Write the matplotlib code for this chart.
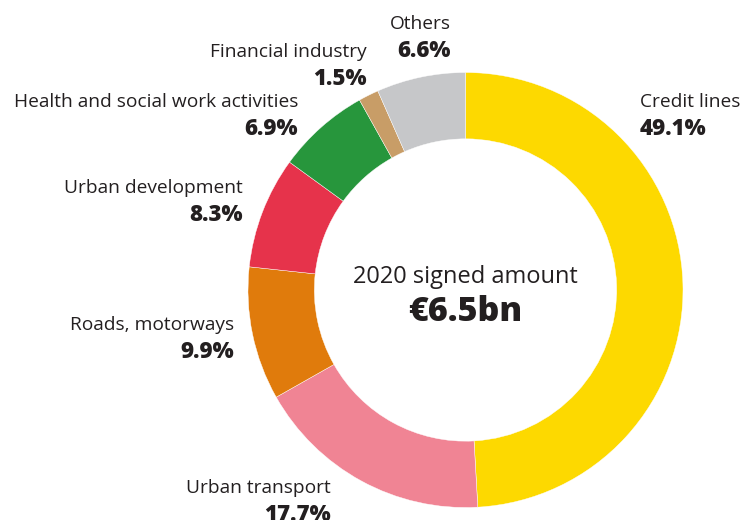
import matplotlib.pyplot as plt

# data
sectors = ['Credit lines', 'Urban transport', 'Roads, motorways', 'Urban development',
           'Health and social work activities', 'Financial industry', 'Others']
shares = [49.1, 17.7, 9.9, 8.3, 6.9, 1.5, 6.6]
colours = ['#FDD900', '#F08494', '#E07B0C', '#E6334B', '#27963C', '#C89D67', '#C6C7C9']
total_label = '€6.5bn'
centre_title = '2020 signed amount'

plt.rcParams['font.family'] = ['Open Sans', 'DejaVu Sans']
ink = '#231F20'

W, H = 743, 520
cx, cy, R = 465.5, 290, 217.5   # pixel layout of the ring

fig = plt.figure(figsize=(W / 100, H / 100), dpi=100)
ax = fig.add_axes([0, 0, 1, 1])
ax.pie(shares, colors=colours, startangle=90, counterclock=False, radius=1,
       wedgeprops=dict(width=0.305, edgecolor='white', linewidth=0.3))
ax.set_aspect('auto')
ax.set_xlim(-cx / R, (W - cx) / R)
ax.set_ylim(-(H - cy) / R, cy / R)
ax.axis('off')

def px(x, y):
    return (x - cx) / R, (cy - y) / R

# label anchors in pixels (x, y of name line), alignment
label_pos = {
    'Credit lines': (640, 102, 'left'),
    'Urban transport': (331, 488, 'right'),
    'Roads, motorways': (234, 325, 'right'),
    'Urban development': (243, 188, 'right'),
    'Health and social work activities': (298, 102, 'right'),
    'Financial industry': (367, 52, 'right'),
    'Others': (451, 24, 'right'),
}

for name, val in zip(sectors, shares):
    x, y, ha = label_pos[name]
    ax.text(*px(x, y), name, ha=ha, va='center', fontsize=13.8, color=ink)
    ax.text(*px(x, y + 27), f'{val:.1f}%', ha=ha, va='center', fontsize=16,
            fontweight='heavy', color=ink)

ax.text(*px(cx, 277), centre_title, ha='center', va='center', fontsize=17, color=ink)
ax.text(*px(cx, 312), total_label, ha='center', va='center', fontsize=24.5,
        fontweight='heavy', color=ink)

fig.savefig('out.png', dpi=100)
